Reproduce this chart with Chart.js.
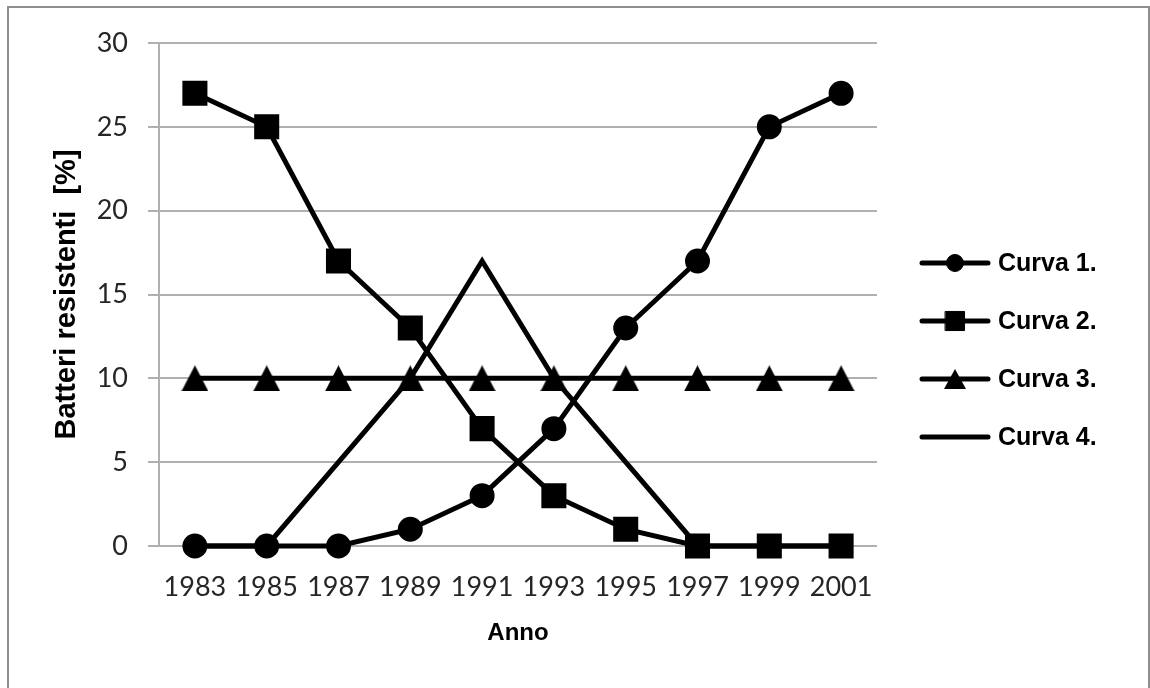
<!DOCTYPE html>
<html><head><meta charset="utf-8">
<script src="https://cdn.jsdelivr.net/npm/chart.js@4/dist/chart.umd.min.js"></script>
<style>
html,body{margin:0;padding:0;background:#fff;}
#wrap{position:relative;width:1150px;height:688px;overflow:hidden;background:#fff;}
#frame{position:absolute;left:7px;top:6px;width:1139px;height:720px;border:2px solid #8f8f8f;pointer-events:none;}
canvas{position:absolute;left:0;top:0;}
</style></head><body>
<div id="wrap"><canvas id="c" width="1150" height="688"></canvas><div id="frame"></div></div>
<script>
// ---- data ----
const years = ['1983','1985','1987','1989','1991','1993','1995','1997','1999','2001'];
const curva1 = [0, 0, 0, 1, 3, 7, 13, 17, 25, 27];
const curva2 = [27, 25, 17, 13, 7, 3, 1, 0, 0, 0];
const curva3 = [10, 10, 10, 10, 10, 10, 10, 10, 10, 10];
const curva4 = [0, 0, 5, 10, 17, 10, 5, 0, 0, 0];
const seriesLabels = ['Curva 1.', 'Curva 2.', 'Curva 3.', 'Curva 4.'];
const yMin = 0, yMax = 30, yStep = 5;
const xTitle = 'Anno';
const yTitle = 'Batteri resistenti  [%]';

function makeTriangle(w, h) {
  const c = document.createElement('canvas');
  c.width = w; c.height = h;
  const g = c.getContext('2d');
  g.fillStyle = '#000';
  g.beginPath();
  g.moveTo(w / 2, 0);
  g.lineTo(w, h);
  g.lineTo(0, h);
  g.closePath();
  g.fill();
  return c;
}
const triBig = makeTriangle(27, 26);
const triSmall = makeTriangle(22, 20);

const lineW = 5;
const datasets = [
  {label: seriesLabels[0], data: curva1, pointStyle: 'circle', pointRadius: 11.5, legendRadius: 8.5, legendStyle: 'circle'},
  {label: seriesLabels[1], data: curva2, pointStyle: 'rect', pointRadius: 16.3, legendRadius: 13.5, legendStyle: 'rect'},
  {label: seriesLabels[2], data: curva3, pointStyle: triBig, pointRadius: 13, legendRadius: 10, legendStyle: triSmall},
  {label: seriesLabels[3], data: curva4, pointStyle: 'circle', pointRadius: 0, legendRadius: 0, legendStyle: false}
].map(d => Object.assign({
  borderColor: '#000', backgroundColor: '#000',
  pointBackgroundColor: '#000', pointBorderColor: '#000', pointBorderWidth: 2,
  borderWidth: lineW, tension: 0, clip: false, pointHoverRadius: d.pointRadius,
  borderCapStyle: 'round', borderJoinStyle: 'miter'
}, d));

const customLegend = {
  id: 'customLegend',
  afterDraw(chart) {
    const ctx = chart.ctx;
    const x0 = 922, x1 = 988, tx = 998, y0 = 263, dy = 58;
    chart.data.datasets.forEach((ds, i) => {
      const y = y0 + i * dy;
      ctx.save();
      ctx.strokeStyle = '#000';
      ctx.lineWidth = lineW;
      ctx.lineCap = 'round';
      ctx.beginPath(); ctx.moveTo(x0, y); ctx.lineTo(x1, y); ctx.stroke();
      if (ds.legendStyle) {
        ctx.fillStyle = '#000';
        ctx.strokeStyle = '#000';
        ctx.lineWidth = 1;
        Chart.helpers.drawPoint(ctx, {pointStyle: ds.legendStyle, radius: ds.legendRadius, rotation: 0, borderWidth: 1}, (x0 + x1) / 2, y);
      }
      ctx.fillStyle = '#000';
      ctx.font = 'bold 25px "Liberation Sans", Arial, sans-serif';
      ctx.textBaseline = 'middle';
      ctx.textAlign = 'left';
      ctx.fillText(ds.label, tx, y + 1);
      ctx.restore();
    });
  }
};

new Chart(document.getElementById('c'), {
  type: 'line',
  data: {labels: years, datasets},
  options: {
    responsive: false,
    animation: false,
    devicePixelRatio: 1,
    layout: {padding: {left: 0, top: 43, right: 273, bottom: 0}},
    plugins: {legend: {display: false}, tooltip: {enabled: false}},
    scales: {
      x: {
        type: 'category',
        offset: true,
        grid: {display: false, drawTicks: false},
        border: {display: false},
        ticks: {color: '#262626', font: {family: 'Lato', size: 27}, padding: 25, maxRotation: 0, autoSkip: false},
        title: {display: true, text: xTitle, color: '#000', font: {family: '"Liberation Sans", Arial', size: 24, weight: 'bold'}, padding: {top: 0, bottom: 40.6}},
        afterFit(s) { s.height = 142; }
      },
      y: {
        min: yMin, max: yMax,
        ticks: {stepSize: yStep, color: '#262626', font: {family: 'Lato', size: 27}, padding: 20},
        grid: {color: '#b0b0b0', lineWidth: 2, drawTicks: true, tickLength: 11},
        border: {display: true, color: '#b0b0b0', width: 2},
        title: {display: true, text: yTitle, color: '#000', font: {family: '"Liberation Sans", Arial', size: 29, weight: 'bold'}, padding: {top: 50, bottom: 0}},
        afterFit(s) { s.width = 159; }
      }
    }
  },
  plugins: [customLegend]
});
</script>
</body></html>
